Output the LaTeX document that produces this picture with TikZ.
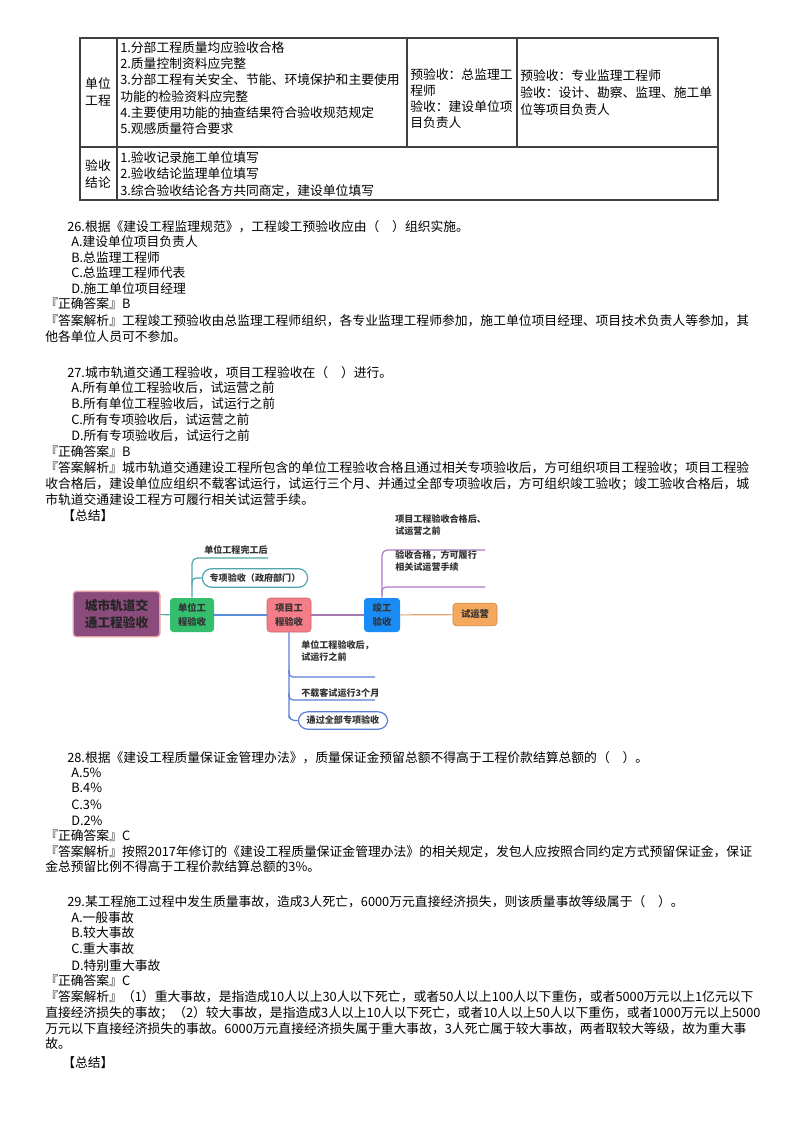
\documentclass[tikz,border=0pt]{standalone}
\usepackage{fontspec}
\setmainfont{Noto Sans CJK SC}
\XeTeXlinebreaklocale "zh"
\XeTeXlinebreakskip=0pt plus 2pt
\definecolor{cg}{RGB}{52,190,110}
\definecolor{cp}{RGB}{245,125,135}
\definecolor{cpd}{RGB}{200,100,110}
\definecolor{cb}{RGB}{25,140,245}
\definecolor{co}{RGB}{246,168,92}
\definecolor{cod}{RGB}{200,130,70}
\definecolor{cc}{RGB}{140,75,125}
\definecolor{ccd}{RGB}{230,160,160}
\definecolor{lteal}{RGB}{80,165,170}
\definecolor{lblue}{RGB}{90,140,215}
\definecolor{lblue2}{RGB}{90,125,215}
\definecolor{lpur}{RGB}{170,120,195}
\definecolor{lpur2}{RGB}{165,120,175}
\definecolor{lor}{RGB}{225,165,110}
\begin{document}
\begin{tikzpicture}[x=0.75pt,y=-0.75pt,
  t/.style={anchor=base west,inner sep=0pt,font=\fontsize{9.6pt}{12pt}\selectfont},
  tc/.style={anchor=base,inner sep=0pt,font=\fontsize{9.6pt}{12pt}\selectfont},
  box/.style={rounded corners=2.5pt,minimum width=33pt,minimum height=25.5pt,align=center,inner sep=1pt,font=\fontsize{7pt}{10pt}\selectfont\bfseries,text=black!80},
  lab/.style={anchor=base west,inner sep=0pt,align=left,font=\fontsize{6.8pt}{9pt}\selectfont\bfseries,text=black!80},
  pill/.style={rounded corners=7pt,inner sep=0pt,line width=0.9pt,font=\fontsize{6.8pt}{9pt}\selectfont\bfseries,text=black!80},
  br/.style={line width=0.9pt}]
\useasboundingbox (0,0) rectangle (800,1132);
\fill[white] (0,0) rectangle (800,1132);
% ---------- table
\draw[line width=1pt,black!75] (80,38) rectangle (718,200);
\draw[black!75,line width=0.8pt] (80,147) -- (718,147) (117,38) -- (117,200) (407,38) -- (407,147) (517,38) -- (517,147);
\node[tc] at (98,88) {单位};
\node[tc] at (98,105) {工程};
\node[t] at (120,52) {1.分部工程质量均应验收合格};
\node[t] at (120,68) {2.质量控制资料应完整};
\node[t] at (120,84) {3.分部工程有关安全、节能、环境保护和主要使用};
\node[t] at (120,101) {功能的检验资料应完整};
\node[t] at (120,117) {4.主要使用功能的抽查结果符合验收规范规定};
\node[t] at (120,133) {5.观感质量符合要求};
\node[t] at (410,79) {预验收：总监理工};
\node[t] at (410,95) {程师};
\node[t] at (410,111) {验收：建设单位项};
\node[t] at (410,127) {目负责人};
\node[t] at (520,80) {预验收：专业监理工程师};
\node[t] at (520,97) {验收：设计、勘察、监理、施工单};
\node[t] at (520,114) {位等项目负责人};
\node[tc] at (98,170) {验收};
\node[tc] at (98,187) {结论};
\node[t] at (120,162) {1.验收记录施工单位填写};
\node[t] at (120,178) {2.验收结论监理单位填写};
\node[t] at (120,195) {3.综合验收结论各方共同商定，建设单位填写};
% ---------- Q26
\node[t] at (67,231) {26.根据《建设工程监理规范》，工程竣工预验收应由（\quad）组织实施。};
\node[t] at (71,246) {A.建设单位项目负责人};
\node[t] at (71,262) {B.总监理工程师};
\node[t] at (71,277) {C.总监理工程师代表};
\node[t] at (71,293) {D.施工单位项目经理};
\node[t] at (45,308) {『正确答案』B};
\node[t] at (45,325) {\hbox to 535.5pt{『答案解析』工程竣工预验收由总监理工程师组织，各专业监理工程师参加，施工单位项目经理、项目技术负责人等参加，其}};
\node[t] at (45,341) {他各单位人员可不参加。};
% ---------- Q27
\node[t] at (67,377) {27.城市轨道交通工程验收，项目工程验收在（\quad）进行。};
\node[t] at (71,392) {A.所有单位工程验收后，试运营之前};
\node[t] at (71,408) {B.所有单位工程验收后，试运行之前};
\node[t] at (71,424) {C.所有专项验收后，试运营之前};
\node[t] at (71,440) {D.所有专项验收后，试运行之前};
\node[t] at (45,456) {『正确答案』B};
\node[t] at (45,472) {\hbox to 535.5pt{『答案解析』城市轨道交通建设工程所包含的单位工程验收合格且通过相关专项验收后，方可组织项目工程验收；项目工程验}};
\node[t] at (45,488) {\hbox to 535.5pt{收合格后，建设单位应组织不载客试运行，试运行三个月、并通过全部专项验收后，方可组织竣工验收；竣工验收合格后，城}};
\node[t] at (45,504) {市轨道交通建设工程方可履行相关试运营手续。};
\node[t] at (62,520) {【总结】};
% ---------- mind map
\node[box,fill=cg] (dw) at (192,615) {单位工\\程验收};
\node[box,fill=cp,draw=cpd] (xm) at (289,615) {项目工\\程验收};
\node[box,fill=cb,minimum width=27pt] (jg) at (382,615) {竣工\\验收};
\node[box,fill=co,draw=cod,minimum height=17pt] (sy) at (475,614.5) {试运营};
\node[box,fill=cc,draw=ccd,line width=1pt,minimum width=65pt,minimum height=34pt,font=\fontsize{9.5pt}{13pt}\selectfont\bfseries,text=black!85] (c) at (116.5,614) {城市轨道交\\通工程验收};
\draw[br,lteal] (c) -- (dw);
\draw[br,lblue] (dw) -- (xm);
\draw[br,lpur2] (xm) -- (jg);
\draw[br,lor] (jg) -- (sy);
% green branch
\coordinate (g1) at (192,558);
\coordinate (g1e) at (268,558);
\node[pill,draw=lteal,minimum width=79pt,minimum height=14pt] (zx) at (255,578) {专项验收（政府部门）};
\draw[br,lteal,rounded corners=4pt] (dw.north) -- (g1) -- (g1e);
\draw[br,lteal,rounded corners=3pt] (192,585) -- (192,578) -- (zx.west);
\node[lab] at (204,553) {单位工程完工后};
% pink branch
\coordinate (p1) at (375,677);
\coordinate (p2) at (375,700);
\node[pill,draw=lblue2,minimum width=67pt,minimum height=13pt] (tg) at (343,720.5) {通过全部专项验收};
\draw[br,lblue2,rounded corners=4pt] (xm.south) -- (289,713) -- (289,720.5) -- (tg.west);
\draw[br,lblue2,rounded corners=3pt] (289,670) -- (289,677) -- (p1);
\draw[br,lblue2,rounded corners=3pt] (289,693) -- (289,700) -- (p2);
\node[lab] at (301,660) {单位工程验收后，\\试运行之前};
\node[lab] at (301,696) {不载客试运行3个月};
% blue branch
\coordinate (b1) at (485,550);
\coordinate (b2) at (485,587);
\draw[br,lpur,rounded corners=4pt] (jg.north) -- (382,550) -- (b1);
\draw[br,lpur,rounded corners=3pt] (382,594) -- (382,587) -- (b2);
\node[lab] at (395,534) {项目工程验收合格后、\\试运营之前};
\node[lab] at (395,570) {验收合格，方可履行\\相关试运营手续};
% ---------- Q28
\node[t] at (67,762) {28.根据《建设工程质量保证金管理办法》，质量保证金预留总额不得高于工程价款结算总额的（\quad）。};
\node[t] at (71,777) {A.5\%};
\node[t] at (71,792) {B.4\%};
\node[t] at (71,809) {C.3\%};
\node[t] at (71,825) {D.2\%};
\node[t] at (45,840) {『正确答案』C};
\node[t] at (45,856) {\hbox to 535.5pt{『答案解析』按照2017年修订的《建设工程质量保证金管理办法》的相关规定，发包人应按照合同约定方式预留保证金，保证}};
\node[t] at (45,871) {金总预留比例不得高于工程价款结算总额的3\%。};
% ---------- Q29
\node[t] at (67,906) {29.某工程施工过程中发生质量事故，造成3人死亡，6000万元直接经济损失，则该质量事故等级属于（\quad）。};
\node[t] at (71,922) {A.一般事故};
\node[t] at (71,937) {B.较大事故};
\node[t] at (71,953) {C.重大事故};
\node[t] at (71,970) {D.特别重大事故};
\node[t] at (45,985) {『正确答案』C};
\node[t] at (45,1001) {\hbox to 535.5pt{『答案解析』（1）重大事故，是指造成10人以上30人以下死亡，或者50人以上100人以下重伤，或者5000万元以上1亿元以下}};
\node[t] at (45,1017) {\hbox to 535.5pt{直接经济损失的事故；（2）较大事故，是指造成3人以上10人以下死亡，或者10人以上50人以下重伤，或者1000万元以上5000}};
\node[t] at (45,1033) {\hbox to 535.5pt{万元以下直接经济损失的事故。6000万元直接经济损失属于重大事故，3人死亡属于较大事故，两者取较大等级，故为重大事}};
\node[t] at (45,1048) {故。};
\node[t] at (62,1067) {【总结】};
\end{tikzpicture}
\end{document}
